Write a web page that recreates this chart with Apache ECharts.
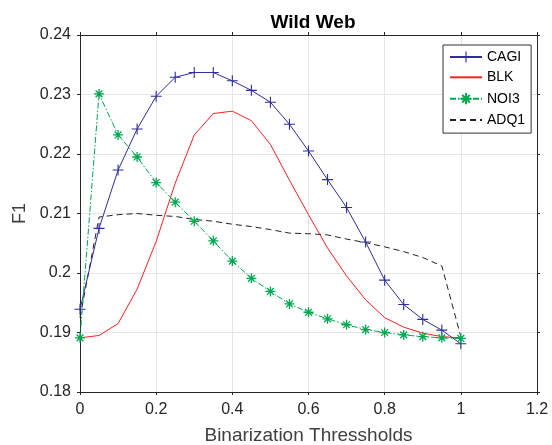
<!DOCTYPE html>
<html><head><meta charset="utf-8">
<script src="https://cdn.jsdelivr.net/npm/echarts@6/dist/echarts.min.js"></script>
<style>html,body{margin:0;padding:0;background:#fff}#c{width:552px;height:445px}</style>
</head><body><div id="c"></div>
<script>
const thresholds = [0,0.05,0.1,0.15,0.2,0.25,0.3,0.35,0.4,0.45,0.5,0.55,0.6,0.65,0.7,0.75,0.8,0.85,0.9,0.95,1.0];
const cagi = [0.1939,0.2075,0.2173,0.2242,0.2297,0.2329,0.2337,0.2337,0.2323,0.2307,0.2287,0.2250,0.2205,0.2157,0.2110,0.2052,0.1988,0.1947,0.1922,0.1904,0.1881];
const blk  = [0.1891,0.1895,0.1915,0.1973,0.2053,0.2151,0.2232,0.2268,0.2272,0.2256,0.2216,0.2156,0.2098,0.2042,0.1995,0.1955,0.1925,0.1909,0.1899,0.1893,0.1891];
const noi3 = [0.1891,0.2301,0.2232,0.2195,0.2152,0.2119,0.2087,0.2054,0.2020,0.1991,0.1969,0.1948,0.1934,0.1923,0.1913,0.1905,0.1900,0.1896,0.1893,0.1891,0.1890];
const adq1 = [0.1925,0.2094,0.2098,0.2100,0.2097,0.2095,0.2090,0.2087,0.2082,0.2078,0.2073,0.2067,0.2066,0.2064,0.2057,0.2051,0.2044,0.2036,0.2026,0.2012,0.1893];
const seriesNames = ['CAGI','BLK','NOI3','ADQ1'];
const pair = v => thresholds.map((x,i)=>[x,v[i]]);

const axCol = '#262626';
const font = 'Liberation Sans, Arial, Helvetica, sans-serif';
const chart = echarts.init(document.getElementById('c'));
const plus = 'path://M4.5,0h1v4.5h4.5v1h-4.5v4.5h-1v-4.5h-4.5v-1h4.5z';
const star = 'path://M5,0L5,10M0,5L10,5M1.6,1.6L8.4,8.4M8.4,1.6L1.6,8.4';
const baseX = {type:'value',min:0,max:1.2,interval:0.2,
  axisLine:{show:true,onZero:false,lineStyle:{color:axCol,width:1}},
  axisTick:{show:true,inside:false,length:3,lineStyle:{color:axCol}}};
const baseY = {type:'value',min:0.18,max:0.24,interval:0.01,
  axisLine:{show:true,onZero:false,lineStyle:{color:axCol,width:1}},
  axisTick:{show:true,inside:false,length:3,lineStyle:{color:axCol}}};
chart.setOption({
  animation:false,
  backgroundColor:'#fff',
  title:{text:'Wild Web',left:308,top:8,textAlign:'center',
    textStyle:{fontFamily:font,fontSize:19,fontWeight:'bold',color:'#000'}},
  grid:{left:80,right:15,top:35,bottom:53,outerBoundsMode:'none',containLabel:false},
  legend:{orient:'vertical',left:443,top:45,padding:[5,6,6,6],itemGap:6.3,
    itemWidth:32,itemHeight:14,borderColor:'#333',borderWidth:1,backgroundColor:'#fff',
    textStyle:{fontFamily:font,fontSize:14,color:'#000'},data:seriesNames},
  xAxis:[
    Object.assign({},baseX,{position:'bottom',name:'Binarization Thressholds',nameLocation:'middle',nameGap:34,
      nameTextStyle:{fontFamily:font,fontSize:19,color:'#404040'},
      axisLabel:{fontFamily:font,fontSize:16,color:axCol,margin:10},
      splitLine:{show:true,lineStyle:{color:'#e6e6e6',width:1}}}),
    Object.assign({},baseX,{position:'top',axisLabel:{show:false},splitLine:{show:false}})
  ],
  yAxis:[
    Object.assign({},baseY,{position:'left',name:'F1',nameLocation:'middle',nameGap:48,
      nameTextStyle:{fontFamily:font,fontSize:18,color:'#404040'},
      axisLabel:{fontFamily:font,fontSize:16,color:axCol,margin:9},
      splitLine:{show:true,lineStyle:{color:'#e6e6e6',width:1}}}),
    Object.assign({},baseY,{position:'right',axisLabel:{show:false},splitLine:{show:false}})
  ],
  series:[
    {name:'CAGI',type:'line',data:pair(cagi),symbol:plus,symbolSize:11,
     lineStyle:{color:'#2e2e9e',width:1},itemStyle:{color:'#2e2e9e'},z:4},
    {name:'BLK',type:'line',data:pair(blk),symbol:'circle',showSymbol:false,
     lineStyle:{color:'#ff2020',width:1},itemStyle:{color:'rgba(0,0,0,0)'},z:3},
    {name:'NOI3',type:'line',data:pair(noi3),symbol:star,symbolSize:10,
     lineStyle:{color:'#00a850',width:1,type:[6,2,1.5,2]},
     itemStyle:{color:'none',borderColor:'#00a850',borderWidth:1.3},z:5},
    {name:'ADQ1',type:'line',data:pair(adq1),symbol:'circle',showSymbol:false,
     lineStyle:{color:'#222',width:1,type:[6,4]},itemStyle:{color:'rgba(0,0,0,0)'},z:2}
  ]
});
</script></body></html>
